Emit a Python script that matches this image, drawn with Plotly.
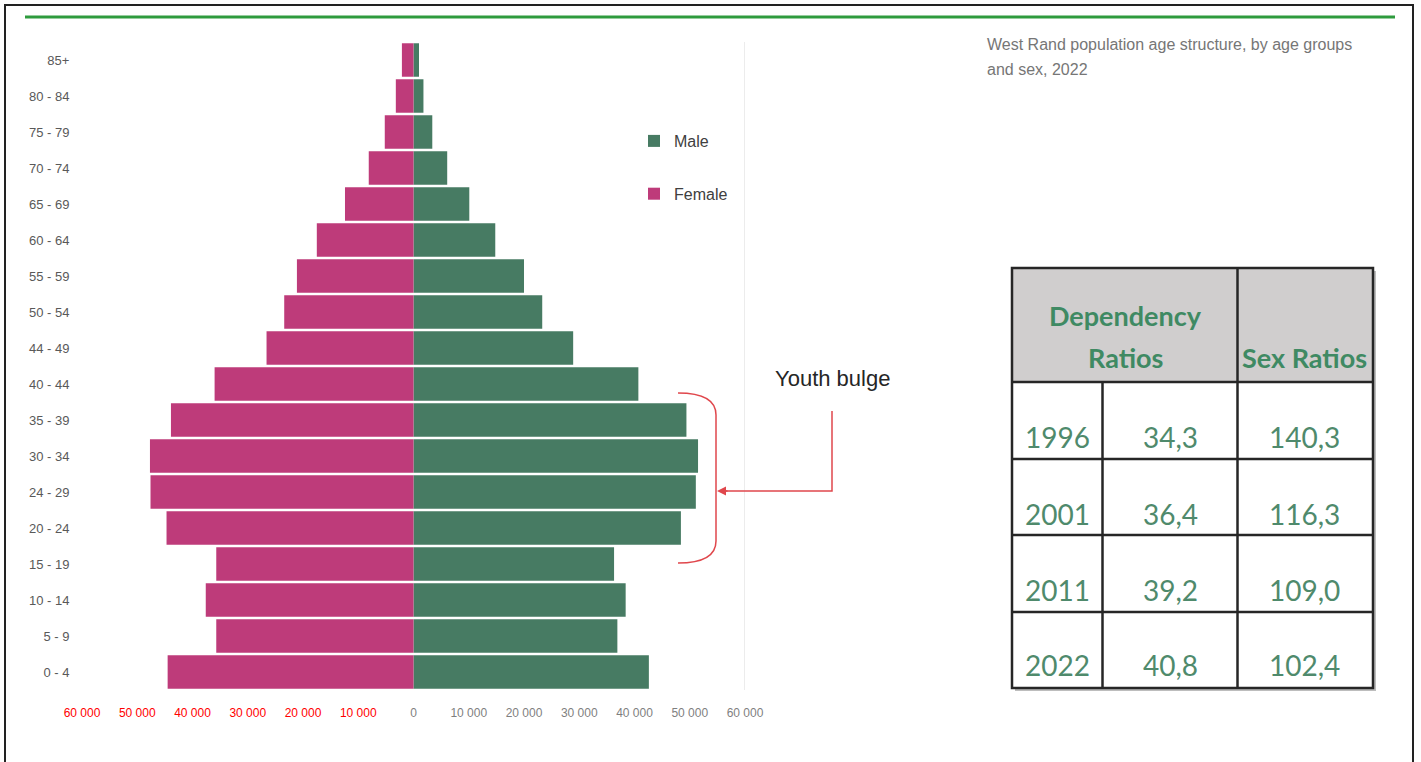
import plotly.graph_objects as go

# ---------------- data ----------------
age_groups = ["0 - 4", "5 - 9", "10 - 14", "15 - 19", "20 - 24", "24 - 29", "30 - 34",
              "35 - 39", "40 - 44", "44 - 49", "50 - 54", "55 - 59", "60 - 64",
              "65 - 69", "70 - 74", "75 - 79", "80 - 84", "85+"]
male = [42600, 36900, 38400, 36300, 48400, 51100, 51500, 49400, 40700, 28900,
        23300, 20000, 14800, 10100, 6100, 3400, 1800, 1000]
female = [44500, 35700, 37600, 35700, 44700, 47600, 47700, 43900, 36000, 26600,
          23400, 21100, 17500, 12400, 8100, 5200, 3200, 2100]
x_tick_values = [-60000, -50000, -40000, -30000, -20000, -10000, 0,
                 10000, 20000, 30000, 40000, 50000, 60000]

title_lines = ["West Rand population age structure, by age groups", "and sex, 2022"]
annotation_text = "Youth bulge"

table_header = ["Dependency", "Ratios", "Sex Ratios"]
years = ["1996", "2001", "2011", "2022"]
dependency = [34.3, 36.4, 39.2, 40.8]
sex_ratio = [140.3, 116.3, 109.0, 102.4]

# ---------------- styling ----------------
W, H = 1421, 762
ML, MR, MT, MB = 82, 676, 42, 72
PW, PH = W - ML - MR, H - MT - MB
SANS = "Liberation Sans, Arial, sans-serif"
TABLE_FONT = "Lato, Liberation Sans, sans-serif"
MALE_C = "#477b63"
FEMALE_C = "#be3b7a"
TABLE_TXT = "#4f8a6c"
RED = "#e0474c"


def px(x):
    return (x - ML) / PW


def py(y):
    return (H - MB - y) / PH


def fmt_tick(v):
    s = f"{abs(v):,}".replace(",", " ")
    color = "#ff0000" if v < 0 else "#7f7f7f"
    return f"<span style='color:{color}'>{s}</span>"


fig = go.Figure()
fig.add_trace(go.Bar(y=age_groups, x=male, orientation="h", name="Male",
                     marker=dict(color=MALE_C, line=dict(width=0)),
                     legendgroup="m"))
fig.add_trace(go.Bar(y=age_groups, x=[-v for v in female], orientation="h", name="Female",
                     marker=dict(color=FEMALE_C, line=dict(width=0)),
                     legendgroup="f"))

shapes = []
annotations = []

# frame and top green rule
shapes.append(dict(type="rect", xref="paper", yref="paper",
                   x0=px(5), x1=px(1413), y0=py(5), y1=py(770),
                   line=dict(color="#222222", width=2), fillcolor="rgba(0,0,0,0)"))
shapes.append(dict(type="line", xref="paper", yref="paper",
                   x0=px(25), x1=px(1395), y0=py(17), y1=py(17),
                   line=dict(color="#2e9b3e", width=3)))

# light vertical line at axis max
shapes.append(dict(type="line", xref="x", yref="paper", x0=x_tick_values[-1], x1=x_tick_values[-1],
                   y0=0, y1=1, line=dict(color="#d9d9d9", width=1)))

# title text
for i, line in enumerate(title_lines):
    annotations.append(dict(xref="paper", yref="paper", x=px(985), y=py(44 + 26 * i),
                            xanchor="left", yanchor="middle", showarrow=False,
                            text=line, font=dict(family=SANS, size=16, color="#767676")))

# youth bulge bracket and arrow
brace = (f"M{px(678)},{py(393)} C{px(700)},{py(393)} {px(716)},{py(398)} {px(716)},{py(415)} "
         f"L{px(716)},{py(541)} C{px(716)},{py(558)} {px(700)},{py(563)} {px(678)},{py(563)}")
shapes.append(dict(type="path", xref="paper", yref="paper", path=brace,
                   line=dict(color=RED, width=1.5)))
shapes.append(dict(type="path", xref="paper", yref="paper",
                   path=f"M{px(832)},{py(411)} L{px(832)},{py(491)} L{px(722)},{py(491)}",
                   line=dict(color=RED, width=1.5)))
annotations.append(dict(xref="paper", yref="paper", x=px(717), y=py(491),
                        ax=12, ay=0, axref="pixel", ayref="pixel", text="",
                        showarrow=True, arrowhead=2, arrowsize=1.2, arrowwidth=1.5,
                        arrowcolor=RED))
annotations.append(dict(xref="paper", yref="paper", x=px(832), y=py(378),
                        xanchor="center", yanchor="middle", showarrow=False,
                        text=annotation_text, font=dict(family=SANS, size=22, color="#262626")))

# ---------------- table ----------------
TX0, TX1, TY0, TY1 = 1012, 1373, 268, 688
HEAD_Y = 382
row_lines = [382, 459, 535, 612, 688]
col_a, col_b = 1102.5, 1237.5
BORDER = dict(color="#262626", width=2.5)

shapes.append(dict(type="rect", xref="paper", yref="paper",
                   x0=px(TX0 + 3), x1=px(TX1 + 3), y0=py(TY0 + 3), y1=py(TY1 + 3),
                   line=dict(width=0), fillcolor="#bdbdbd", layer="above"))
shapes.append(dict(type="rect", xref="paper", yref="paper",
                   x0=px(TX0), x1=px(TX1), y0=py(TY0), y1=py(TY1),
                   line=dict(width=0), fillcolor="white", layer="above"))
shapes.append(dict(type="rect", xref="paper", yref="paper",
                   x0=px(TX0), x1=px(TX1), y0=py(TY0), y1=py(HEAD_Y),
                   line=dict(width=0), fillcolor="#d0cece", layer="above"))
for yl in row_lines[:-1]:
    shapes.append(dict(type="line", xref="paper", yref="paper",
                       x0=px(TX0), x1=px(TX1), y0=py(yl), y1=py(yl), line=BORDER, layer="above"))
shapes.append(dict(type="line", xref="paper", yref="paper",
                   x0=px(col_b), x1=px(col_b), y0=py(TY0), y1=py(TY1), line=BORDER, layer="above"))
shapes.append(dict(type="line", xref="paper", yref="paper",
                   x0=px(col_a), x1=px(col_a), y0=py(HEAD_Y), y1=py(TY1), line=BORDER, layer="above"))
shapes.append(dict(type="rect", xref="paper", yref="paper",
                   x0=px(TX0), x1=px(TX1), y0=py(TY0), y1=py(TY1),
                   line=BORDER, fillcolor="rgba(0,0,0,0)", layer="above"))

head_font = dict(family=TABLE_FONT, size=27, color="#3f8a63")
annotations.append(dict(xref="paper", yref="paper", x=px(1125), y=py(315), showarrow=False,
                        xanchor="center", yanchor="middle", text=f"<b>{table_header[0]}</b>",
                        font=head_font))
annotations.append(dict(xref="paper", yref="paper", x=px(1125), y=py(358), showarrow=False,
                        xanchor="center", yanchor="middle", text=f"<b>{table_header[1]}</b>",
                        font=head_font))
annotations.append(dict(xref="paper", yref="paper", x=px(1304), y=py(358), showarrow=False,
                        xanchor="center", yanchor="middle", text=f"<b>{table_header[2]}</b>",
                        font=head_font))

cell_font = dict(family=TABLE_FONT, size=28, color=TABLE_TXT)
row_centers = [437, 514, 590, 665]
for yr, dep, sr, yc in zip(years, dependency, sex_ratio, row_centers):
    for xc, txt in ((1057, yr),
                    (1170, f"{dep:.1f}".replace(".", ",")),
                    (1304, f"{sr:.1f}".replace(".", ","))):
        annotations.append(dict(xref="paper", yref="paper", x=px(xc), y=py(yc),
                                showarrow=False, xanchor="center", yanchor="middle",
                                text=txt, font=cell_font))

fig.update_layout(
    width=W, height=H,
    margin=dict(l=ML, r=MR, t=MT, b=MB, pad=0),
    barmode="overlay", bargap=0.07,
    paper_bgcolor="white", plot_bgcolor="white",
    showlegend=True,
    legend=dict(x=px(634), y=py(124), xref="paper", yref="paper",
                xanchor="left", yanchor="top", traceorder="grouped", tracegroupgap=29,
                font=dict(family=SANS, size=16, color="#404040"),
                bgcolor="rgba(0,0,0,0)", itemclick=False),
    xaxis=dict(range=[x_tick_values[0], x_tick_values[-1]], tickmode="array",
               tickvals=x_tick_values, ticktext=[fmt_tick(v) for v in x_tick_values],
               showgrid=False, zeroline=False, showline=False,
               ticks="outside", ticklen=12, tickcolor="rgba(0,0,0,0)",
               tickfont=dict(family=SANS, size=12)),
    yaxis=dict(type="category", categoryorder="array", categoryarray=age_groups,
               range=[-0.5, len(age_groups) - 0.5],
               showgrid=False, zeroline=False, showline=False,
               ticks="outside", ticklen=9, tickcolor="rgba(0,0,0,0)",
               tickfont=dict(family=SANS, size=13, color="#595959")),
    shapes=shapes, annotations=annotations,
)

fig.write_html("out.html", config={"displayModeBar": False},
               post_script="document.body.style.margin='0';document.body.style.overflow='hidden';")
